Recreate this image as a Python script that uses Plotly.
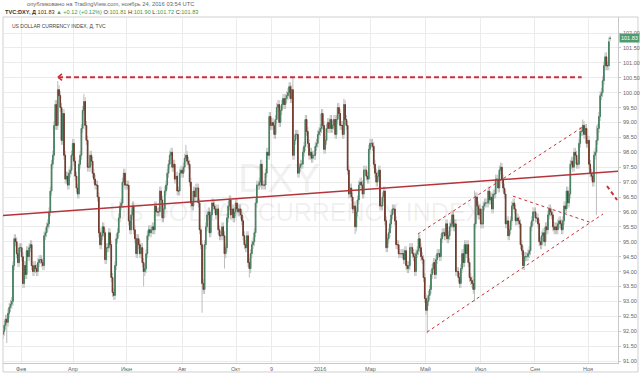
import pandas as pd
import plotly.graph_objects as go

# ---------------- data (daily closes, Mon..Fri, week by week) ----------------
FIRST_DAY, LAST_DAY = "2015-01-12", "2016-11-24"
CLOSE_2015 = [
    [92.0, 92.2, 92.4, 92.3, 92.6], [92.8, 92.9, 93.0, 94.2, 95.1],
    [95.0, 94.6, 94.3, 94.8, 94.8], [94.5, 93.6, 94.2, 93.9, 94.7],
    [94.5, 94.8, 94.9, 94.2, 94.0], [94.2, 94.1, 94.0, 94.3, 94.4],
    [94.4, 94.3, 94.2, 95.2, 95.3], [95.5, 95.6, 96.0, 96.7, 97.6],
    [97.9, 98.9, 99.6, 98.9, 100.1], [99.9, 99.5, 98.4, 99.3, 97.9],
    [97.1, 97.2, 96.9, 97.3, 97.4], [97.9, 98.3, 97.7, 97.2, 96.8],
    [96.6, 97.6, 97.9, 98.8, 99.4], [99.7, 98.9, 98.4, 97.5, 97.5],
    [97.9, 97.7, 97.3, 97.1, 96.9], [96.9, 96.5, 95.3, 94.9, 95.2],
    [95.5, 95.3, 94.4, 94.8, 94.8], [95.3, 94.9, 93.8, 93.3, 93.2],
    [94.2, 95.1, 95.3, 95.8, 96.2], [96.3, 97.0, 97.3, 96.9, 96.9],
    [96.9, 95.7, 95.4, 95.9, 96.2], [95.4, 95.1, 94.6, 95.1, 94.9],
    [94.6, 94.8, 94.3, 94.0, 94.1], [94.6, 95.2, 95.4, 95.3, 95.4],
    [95.5, 95.4, 96.2, 96.0, 96.0], [96.0, 96.7, 96.4, 95.8, 96.1],
    [96.7, 96.9, 97.3, 97.6, 97.9], [98.0, 97.5, 97.6, 97.1, 97.2],
    [96.7, 96.7, 97.3, 97.4, 97.3], [97.5, 97.8, 97.9, 97.7, 97.6],
    [97.0, 96.3, 96.2, 96.7, 96.5], [96.8, 96.8, 96.3, 95.4, 94.9],
    [93.6, 93.4, 94.9, 95.5, 95.9], [96.0, 95.3, 95.9, 96.3, 96.2],
    [96.1, 95.9, 96.1, 95.4, 95.2], [95.2, 95.5, 95.2, 94.6, 94.8],
    [95.8, 96.2, 96.4, 95.9, 96.1], [95.8, 96.0, 96.3, 96.1, 96.0],
    [96.1, 95.9, 95.7, 95.2, 94.9], [94.8, 95.2, 94.3, 94.1, 94.6],
    [94.9, 95.0, 95.3, 96.3, 96.9], [96.9, 97.0, 97.6, 96.9, 96.9],
    [96.9, 97.3, 98.0, 97.9, 99.2], [98.9, 99.0, 98.9, 98.6, 99.1],
    [99.5, 99.6, 99.0, 99.4, 99.6], [99.8, 99.6, 99.8, 99.9, 100.0],
    [100.2, 99.8, 100.1, 97.9, 98.4], [98.6, 98.6, 97.3, 97.5, 97.6],
    [97.6, 98.0, 98.2, 99.1, 98.7], [98.3, 97.9, 98.0, 97.8, 97.9],
    [97.9, 98.2, 98.3, 98.6, 98.7],
]
CLOSE_2016 = [
    [98.8, 99.3, 98.9, 98.1, 98.4], [98.8, 99.0, 98.8, 99.1, 98.8],
    [98.9, 99.1, 98.6, 99.1, 99.5], [99.3, 98.9, 98.9, 98.6, 99.6],
    [99.1, 98.9, 97.4, 96.6, 96.8], [96.5, 96.1, 96.2, 95.5, 96.0],
    [96.4, 96.9, 97.0, 96.9, 96.6], [97.4, 97.4, 97.2, 97.1, 98.1],
    [98.3, 98.3, 98.2, 97.6, 97.3], [97.0, 97.2, 97.4, 96.2, 96.2],
    [96.5, 96.7, 95.7, 94.8, 95.1], [95.3, 95.6, 95.9, 96.1, 96.1],
    [95.7, 94.9, 94.9, 94.6, 94.6], [94.6, 94.6, 94.4, 94.7, 94.2],
    [94.1, 94.2, 94.8, 94.8, 94.6], [94.5, 94.0, 94.6, 94.7, 95.1],
    [94.8, 94.5, 94.4, 93.8, 93.1], [92.7, 93.0, 93.2, 93.4, 93.9],
    [94.1, 94.3, 93.9, 94.4, 94.6], [94.6, 94.5, 95.1, 95.3, 95.3],
    [95.2, 95.6, 95.1, 95.2, 95.5], [95.6, 95.9, 95.5, 95.6, 94.0],
    [94.0, 93.8, 93.6, 94.1, 94.6], [94.3, 94.9, 94.6, 94.9, 94.3],
    [93.8, 93.7, 93.6, 93.4, 95.6], [96.5, 96.2, 95.9, 96.1, 95.6],
    [95.6, 96.2, 96.3, 96.3, 96.3], [96.7, 96.4, 96.5, 96.1, 96.6],
    [96.6, 97.1, 97.1, 96.8, 97.4], [97.5, 97.1, 96.8, 96.6, 95.6],
    [95.7, 95.2, 95.4, 95.7, 96.2], [96.3, 96.1, 95.7, 95.8, 95.7],
    [95.6, 94.9, 94.7, 94.2, 94.5], [94.5, 94.5, 94.6, 94.7, 95.5],
    [95.7, 96.0, 96.0, 95.8, 95.8], [95.6, 95.0, 94.9, 95.2, 95.3],
    [95.0, 95.5, 95.4, 95.9, 96.1], [96.0, 95.9, 95.5, 95.4, 95.5],
    [95.4, 95.6, 95.7, 95.6, 95.4], [95.7, 96.2, 96.1, 96.7, 96.3],
    [96.6, 97.6, 97.7, 97.5, 98.0], [97.9, 97.6, 97.6, 98.3, 98.7],
    [98.7, 98.9, 98.6, 98.8, 98.3], [98.4, 97.6, 97.3, 97.2, 97.0],
    [97.9, 98.0, 98.4, 98.8, 99.2], [99.9, 100.0, 100.4, 100.9, 101.2],
    [100.9, 100.9, 101.71, 101.83],
]
FIRST_OPEN = 91.9
OPEN_OVERRIDE = {"2016-11-24": 101.81}
HIGH_OVERRIDE = {"2015-03-13": 100.39, "2015-04-13": 99.95, "2015-08-05": 98.25,
                 "2015-12-03": 100.51, "2016-01-29": 99.8, "2016-06-24": 96.71,
                 "2016-10-25": 99.1, "2016-11-09": 98.9, "2016-11-24": 101.90}
LOW_OVERRIDE = {"2015-01-15": 91.6, "2015-06-18": 93.5, "2015-08-24": 92.62,
                "2015-09-17": 94.1, "2015-10-15": 93.8, "2016-02-11": 95.25,
                "2016-05-03": 91.92, "2016-06-24": 93.0, "2016-11-09": 95.89,
                "2016-11-24": 101.72}
WICK = 0.15

# drawn lines (date, price)
RESIST_LINE = [("2015-03-13 16:20", 100.52), ("2016-10-24 15:50", 100.52)]
RESIST_ARROW = [("2015-03-18 21:30", 100.63), ("2015-03-13 16:20", 100.52), ("2015-03-18 21:30", 100.41)]
TREND_LINE = [("2015-01-12 11:20", 95.88), ("2016-12-02 20:00", 97.36)]
CHANNEL_UP = [("2016-04-22 01:40", 95.26), ("2016-10-25 11:00", 98.85)]
CHANNEL_LOW = [("2016-05-03 07:10", 91.97), ("2016-11-16 19:10", 95.93)]
TRI_DOWN = [("2016-08-08 09:30", 96.53), ("2016-11-03 22:40", 95.63)]
SHORT_ARROW = [("2016-11-22 00:00", 96.87), ("2016-12-02 02:20", 96.40)]

TICK_DATES = ["2015-02-02", "2015-04-01", "2015-06-01", "2015-08-03", "2015-10-01",
              "2015-11-10", "2016-01-04", "2016-03-01", "2016-05-02", "2016-07-01",
              "2016-09-01", "2016-11-01"]
TICK_TEXT = ["Фев", "Апр", "Июн", "Авг", "Окт", "9", "2016", "Мар", "Май", "Июл", "Сен", "Ноя"]
PRICE_TICKS = [91.0, 91.5, 92.0, 92.5, 93.0, 93.5, 94.0, 94.5, 95.0, 95.5, 96.0, 96.5,
               97.0, 97.5, 98.0, 98.5, 99.0, 99.5, 100.0, 100.5, 101.0, 101.5, 102.0]

# ---------------- build ----------------
close = [v for w in CLOSE_2015 + CLOSE_2016 for v in w]
dates = pd.bdate_range(FIRST_DAY, LAST_DAY)
assert len(dates) == len(close), (len(dates), len(close))
keys = [d.strftime("%Y-%m-%d") for d in dates]
opens = [FIRST_OPEN] + close[:-1]
opens = [OPEN_OVERRIDE.get(k, o) for k, o in zip(keys, opens)]
highs = [HIGH_OVERRIDE.get(k, max(o, c) + WICK) for k, o, c in zip(keys, opens, close)]
lows = [LOW_OVERRIDE.get(k, min(o, c) - WICK) for k, o, c in zip(keys, opens, close)]
xs = dates + pd.Timedelta(hours=12)

UP, UP_LINE = "#55916f", "#478262"
DN, DN_LINE = "#5f3426", "#733c2d"
WICK_C = "#bdbdbd"
RED = "#c8323a"
FONT = "Liberation Sans"

fig = go.Figure()
fig.add_trace(go.Candlestick(
    x=xs, open=opens, high=highs, low=lows, close=close,
    increasing=dict(line=dict(color=WICK_C, width=1), fillcolor=WICK_C),
    decreasing=dict(line=dict(color=WICK_C, width=1), fillcolor=WICK_C),
    showlegend=False, hoverinfo="skip"))
fig.add_trace(go.Candlestick(
    x=xs, open=opens, close=close,
    high=[max(o, c) for o, c in zip(opens, close)],
    low=[min(o, c) for o, c in zip(opens, close)],
    increasing=dict(line=dict(color=UP_LINE, width=1), fillcolor=UP),
    decreasing=dict(line=dict(color=DN_LINE, width=1), fillcolor=DN),
    showlegend=False))

shapes = []
def seg(p0, p1, color, width, dash):
    shapes.append(dict(type="line", xref="x", yref="y", x0=p0[0], y0=p0[1],
                       x1=p1[0], y1=p1[1], line=dict(color=color, width=width, dash=dash)))

seg(*RESIST_LINE, RED, 2, "5px,3px")
seg(RESIST_ARROW[0], RESIST_ARROW[1], RED, 1.5, "solid")
seg(RESIST_ARROW[2], RESIST_ARROW[1], RED, 1.5, "solid")
seg(*TREND_LINE, "#b5333a", 1.5, "solid")
seg(*CHANNEL_UP, RED, 1, "3px,3px")
seg(*CHANNEL_LOW, RED, 1, "3px,3px")
seg(*TRI_DOWN, RED, 1, "3px,3px")
seg(*SHORT_ARROW, RED, 2, "4px,3px")
# outer frame
shapes.append(dict(type="rect", xref="paper", yref="paper", x0=0, y0=-0.026, x1=1.0325, y1=1.0,
                   line=dict(color="#cfcfcf", width=1), fillcolor="rgba(0,0,0,0)", layer="below"))

G = "#3a9a4a"
ann = [
    dict(xref="paper", yref="paper", x=0.036, y=1.038, xanchor="left", yanchor="middle",
         text="опубликовано на TradingView.com, ноябрь 24, 2016 03:54 UTC",
         font=dict(size=5.8, color="#666", family=FONT), showarrow=False),
    dict(xref="paper", yref="paper", x=0.0, y=1.0145, xanchor="left", yanchor="middle",
         text=(f"<b>TVC:DXY, Д</b> 101.83 <span style='color:{G}'>▲ +0.12 (+0.12%)</span> "
               f"O:<span style='color:{G}'>101.81</span> H:<span style='color:{G}'>101.90</span> "
               f"L:<span style='color:{G}'>101.72</span> C:<span style='color:{G}'>101.83</span>"),
         font=dict(size=5.6, color="#333", family=FONT), showarrow=False),
    dict(xref="paper", yref="paper", x=0.011, y=0.974, xanchor="left", yanchor="middle",
         text="US DOLLAR CURRENCY INDEX, Д, TVC",
         font=dict(size=5, color="#444", family=FONT), showarrow=False),
    dict(xref="paper", yref="paper", x=0.449, y=0.536, xanchor="center", yanchor="middle",
         text="DXY", font=dict(size=40, color="rgba(110,110,110,0.10)", family=FONT), showarrow=False),
    dict(xref="paper", yref="paper", x=0.476, y=0.435, xanchor="center", yanchor="middle",
         text="US DOLLAR CURRENCY INDEX", font=dict(size=25, color="rgba(110,110,110,0.10)", family=FONT),
         showarrow=False),
]
for d, t in zip(TICK_DATES, TICK_TEXT):
    ann.append(dict(xref="x", yref="paper", x=d, y=-0.016, xanchor="center", yanchor="middle",
                    text=t, font=dict(size=5.5, color="#666", family=FONT), showarrow=False))
for p in PRICE_TICKS:
    ann.append(dict(xref="paper", yref="y", x=1.0, y=p, xanchor="left", yanchor="middle", xshift=3,
                    text=f"{p:.2f}", font=dict(size=5.5, color="#666", family=FONT), showarrow=False))
ann.append(dict(xref="paper", yref="y", x=1.0, y=close[-1], xanchor="left", yanchor="middle", xshift=1,
                text=f"{close[-1]:.2f}", font=dict(size=5.5, color="white", family=FONT),
                bgcolor="#4f9a6e", borderpad=1, showarrow=False))

fig.update_layout(
    width=640, height=374, margin=dict(l=3, r=22, t=17, b=11, autoexpand=False),
    paper_bgcolor="white", plot_bgcolor="white",
    shapes=shapes, annotations=ann, showlegend=False,
    font=dict(family=FONT, size=6, color="#555"),
    xaxis=dict(type="date", rangeslider=dict(visible=False), automargin=False,
               rangebreaks=[dict(bounds=["sat", "mon"])],
               range=["2015-01-12 11:17", "2016-12-02 20:10"],
               tickvals=TICK_DATES, showticklabels=False,
               showgrid=True, gridcolor="#ebebeb", gridwidth=1,
               showline=True, linecolor="#c8c8c8", zeroline=False, ticks=""),
    yaxis=dict(side="right", range=[90.933, 102.537], tickvals=PRICE_TICKS, showticklabels=False,
               automargin=False, showgrid=True, gridcolor="#ebebeb",
               showline=True, linecolor="#c8c8c8", ticks="outside", ticklen=2, tickcolor="#c8c8c8",
               zeroline=False),
)

fig.write_html("out.html", config={"displayModeBar": False},
               post_script="document.body.style.margin='0';document.body.style.overflow='hidden';")
